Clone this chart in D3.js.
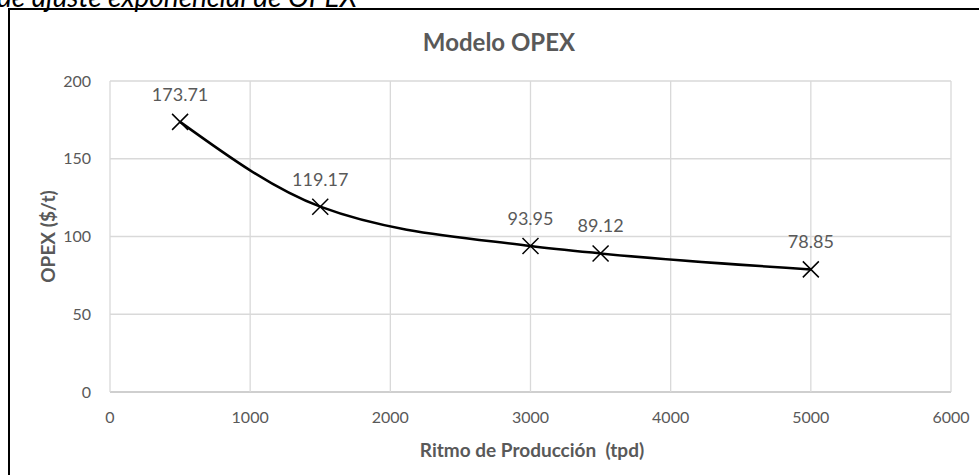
<!DOCTYPE html>
<html>
<head>
<meta charset="utf-8">
<script src="https://cdn.jsdelivr.net/npm/d3@7/dist/d3.min.js"></script>
<style>
  body { margin: 0; background: #fff; overflow: hidden; }
  svg { display: block; }
</style>
</head>
<body>
<svg id="chart"></svg>
<script>
// Datos del modelo OPEX
const ritmo = [500, 1500, 3000, 3500, 5000];       // tpd
const opex = [173.71, 119.17, 93.95, 89.12, 78.85]; // $/t
const xTicks = [0, 1000, 2000, 3000, 4000, 5000, 6000];
const yTicks = [0, 50, 100, 150, 200];

const width = 979, height = 475;
const svg = d3.select("#chart").attr("width", width).attr("height", height);

const font = "Lato, 'Liberation Sans', sans-serif";
const gris = "#595959";

// Leyenda de la figura (cortada arriba)
svg.append("text")
  .attr("x", -3)
  .attr("y", 7)
  .attr("font-family", font)
  .attr("font-style", "italic")
  .attr("font-size", "28px")
  .attr("fill", "#000")
  .text("de ajuste exponencial de OPEX");

// Marco del gráfico
svg.append("rect")
  .attr("x", 9).attr("y", 9)
  .attr("width", 990).attr("height", 480)
  .attr("fill", "none")
  .attr("stroke", "#000")
  .attr("stroke-width", 2);

// Escalas
const x = d3.scaleLinear().domain([0, 6000]).range([110, 951]);
const y = d3.scaleLinear().domain([0, 200]).range([392, 81]);

// Rejilla
svg.append("g")
  .selectAll("line")
  .data(yTicks)
  .join("line")
  .attr("x1", x(0)).attr("x2", x(6000))
  .attr("y1", d => y(d)).attr("y2", d => y(d))
  .attr("stroke", d => d === 0 ? "#bfbfbf" : "#d9d9d9")
  .attr("stroke-width", 1.3);

svg.append("g")
  .selectAll("line")
  .data(xTicks)
  .join("line")
  .attr("x1", d => x(d)).attr("x2", d => x(d))
  .attr("y1", y(0)).attr("y2", y(200))
  .attr("stroke", "#d9d9d9")
  .attr("stroke-width", 1.3);

// Etiquetas de ejes
svg.append("g")
  .selectAll("text")
  .data(xTicks)
  .join("text")
  .attr("x", d => x(d))
  .attr("y", 423)
  .attr("text-anchor", "middle")
  .attr("font-family", font)
  .attr("font-size", "16px")
  .attr("fill", gris)
  .text(d => d);

svg.append("g")
  .selectAll("text")
  .data(yTicks)
  .join("text")
  .attr("x", 91)
  .attr("y", d => y(d))
  .attr("dy", "0.35em")
  .attr("text-anchor", "end")
  .attr("font-family", font)
  .attr("font-size", "16px")
  .attr("fill", gris)
  .text(d => d);

// Título
svg.append("text")
  .attr("x", 499)
  .attr("y", 51)
  .attr("text-anchor", "middle")
  .attr("font-family", font)
  .attr("font-weight", "bold")
  .attr("font-size", "24px")
  .attr("fill", gris)
  .text("Modelo OPEX");

svg.append("text")
  .attr("x", 532)
  .attr("y", 457)
  .attr("text-anchor", "middle")
  .attr("font-family", font)
  .attr("font-weight", "bold")
  .attr("font-size", "19px")
  .attr("fill", gris)
  .attr("xml:space", "preserve")
  .text("Ritmo de Producción  (tpd)");

svg.append("text")
  .attr("transform", `translate(55,${(y(0) + y(200)) / 2}) rotate(-90)`)
  .attr("text-anchor", "middle")
  .attr("font-family", font)
  .attr("font-weight", "bold")
  .attr("font-size", "19px")
  .attr("fill", gris)
  .text("OPEX ($/t)");

// Curva suavizada
const pts = ritmo.map((r, i) => [r, opex[i]]);
const line = d3.line()
  .x(d => x(d[0]))
  .y(d => y(d[1]))
  .curve(d3.curveMonotoneX);

svg.append("path")
  .attr("d", line(pts))
  .attr("fill", "none")
  .attr("stroke", "#000")
  .attr("stroke-width", 2.5);

// Marcadores X
const m = 8;
const marcas = svg.append("g")
  .selectAll("g")
  .data(pts)
  .join("g")
  .attr("transform", d => `translate(${x(d[0])},${y(d[1])})`);
marcas.append("path")
  .attr("d", `M${-m},${-m}L${m},${m}M${-m},${m}L${m},${-m}`)
  .attr("stroke", "#000")
  .attr("stroke-width", 1.5);

// Etiquetas de datos
svg.append("g")
  .selectAll("text")
  .data(pts)
  .join("text")
  .attr("x", d => x(d[0]))
  .attr("y", d => y(d[1]) - 21)
  .attr("text-anchor", "middle")
  .attr("font-family", font)
  .attr("font-size", "18px")
  .attr("fill", gris)
  .text(d => d[1].toFixed(2));
</script>
</body>
</html>
